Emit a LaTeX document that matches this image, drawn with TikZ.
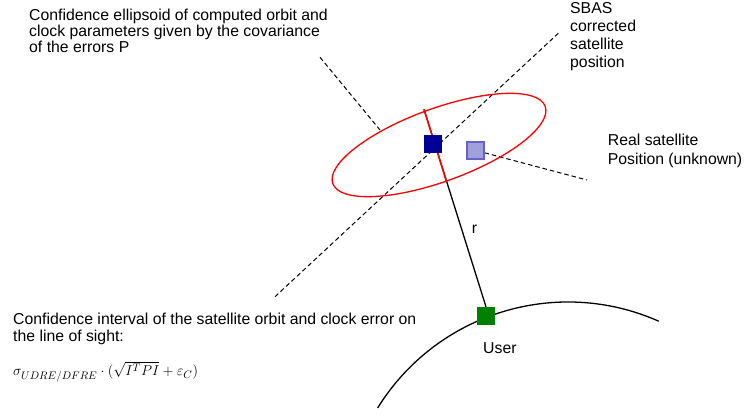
\documentclass[tikz,border=0pt]{standalone}
\usepackage{fontspec}
\setmainfont{Liberation Sans}
\usetikzlibrary{shapes.geometric,backgrounds}
\definecolor{sbasblue}{RGB}{0,0,153}
\definecolor{realfill}{RGB}{160,160,220}
\definecolor{realedge}{RGB}{100,100,200}
\definecolor{usergreen}{RGB}{0,128,0}
\begin{document}
\begin{tikzpicture}[x=1pt,y=1pt,
  txt/.style={inner sep=0pt, anchor=base west, align=left, font=\fontsize{15.8}{16}\selectfont},
  dashline/.style={black, line width=1pt, dash pattern=on 4.5pt off 3pt},
  sq/.style={rectangle, minimum size=18pt, inner sep=0pt},
  losline/.style={black, line width=1.3pt}
]
\useasboundingbox (0,0) rectangle (744,415);

% squares
\node[sq, fill=sbasblue] (sbas) at (433,271) {};
\node[sq, minimum size=17pt, fill=realfill, draw=realedge, line width=1.5pt] (real) at (475.3,264.7) {};
\node[sq, fill=usergreen] (user) at (486,99) {};

% ellipsoid
\node[ellipse, draw=red, line width=1.3pt, minimum width=226pt, minimum height=73pt, inner sep=0pt, rotate=20] (ell) at (439,270) {};

\coordinate (lostop) at (424,305.7);
\coordinate (losred) at (446.7,232.7);
\coordinate (d1a) at (275,118.3);
\coordinate (d1b) at (558.3,381.7);
\coordinate (d2a) at (320,357.7);
\coordinate (d2b) at (380,285);
\coordinate (d3b) at (587,235);

\begin{pgfonlayer}{background}
  \draw[dashline] (d1a) -- (d1b);
  \draw[dashline] (d2a) -- (d2b);
  \draw[dashline] (real.-15) -- (d3b);
  \draw[losline] (lostop) -- (user.north);
  \draw[red, line width=1.5pt] (lostop) -- (losred);
  % Earth
  \draw[line width=1.3pt] (568,-111) ++(148.2:224) arc[start angle=148.2, end angle=66.1, radius=224];
\end{pgfonlayer}

% texts (base anchor = baseline of the last line)
\node[txt] (ttop) at (29,362.3) {Confidence ellipsoid of computed orbit and\\clock parameters given by the covariance\\of the errors P};
\node[txt, font=\fontsize{15.8}{18}\selectfont] (tsbas) at (570,347.7) {SBAS\\corrected\\satellite\\position};
\node[txt, font=\fontsize{15.8}{18.7}\selectfont] (treal) at (607.7,250.7) {Real satellite\\Position (unknown)};
\node[txt] (tr) at (471.7,181.7) {r};
\node[txt] (tuser) at (483,62) {User};
\node[txt] (tci) at (13,74) {Confidence interval of the satellite orbit and clock error on\\the line of sight:};
\node[txt, font=\fontsize{15.8}{18}\selectfont] (tformula) at (13,39) {$\sigma_{UDRE/DFRE}\cdot\bigl(\sqrt{I^{T}PI}+\varepsilon_{C}\bigr)$};
\end{tikzpicture}
\end{document}
